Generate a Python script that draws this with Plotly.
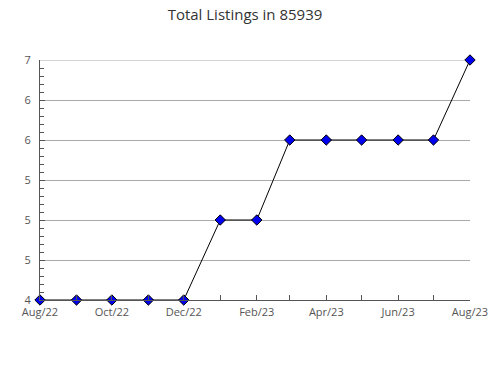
import plotly.graph_objects as go

months = ["2022-08-01", "2022-09-01", "2022-10-01", "2022-11-01", "2022-12-01",
          "2023-01-01", "2023-02-01", "2023-03-01", "2023-04-01", "2023-05-01",
          "2023-06-01", "2023-07-01", "2023-08-01"]
listings = [4, 4, 4, 4, 4, 5, 5, 6, 6, 6, 6, 6, 7]
y_tickvals = [4, 4.5, 5, 5.5, 6, 6.5, 7]
y_ticktext = ["4", "5", "5", "5", "6", "6", "7"]

fig = go.Figure(go.Scatter(
    x=months, y=listings, mode="lines+markers", cliponaxis=False,
    line=dict(color="black", width=1),
    marker=dict(symbol="diamond", size=8, color="#0000ee",
                line=dict(color="black", width=1)),
))

fig.add_shape(type="line", xref="paper", yref="y", x0=0, x1=1,
              y0=y_tickvals[-1], y1=y_tickvals[-1],
              line=dict(color="#aaa", width=1), layer="below")

fig.update_layout(
    width=490, height=380,
    margin=dict(l=40, r=20, t=60, b=80, autoexpand=False),
    paper_bgcolor="white", plot_bgcolor="white",
    font=dict(family="Open Sans", size=11, color="#555"),
    title=dict(text="Total Listings in 85939", x=0.5, xanchor="center",
               y=0.975, yanchor="top",
               font=dict(family="Open Sans", size=15, color="#333")),
    showlegend=False,
)
fig.update_xaxes(
    type="date", range=["2022-08-01", "2023-08-01"], automargin=False,
    dtick="M2", tick0="2022-08-01", tickformat="%b/%y",
    ticks="inside", ticklen=5, tickcolor="#555", ticklabelstandoff=2,
    minor=dict(dtick="M1", ticks="inside", ticklen=5, tickcolor="#555", showgrid=False),
    showline=True, linecolor="#555", linewidth=1,
    showgrid=False, zeroline=False,
)
fig.update_yaxes(
    range=[4, 7], tickvals=y_tickvals, ticktext=y_ticktext, automargin=False,
    ticks="inside", ticklen=5, tickcolor="#555", ticklabelstandoff=6,
    minor=dict(dtick=0.1, tick0=4, ticks="inside", ticklen=4, tickcolor="#555", showgrid=False),
    showline=True, linecolor="#555", linewidth=1,
    showgrid=True, gridcolor="#aaa", gridwidth=1, zeroline=False,
)

fig.write_html("out.html")
